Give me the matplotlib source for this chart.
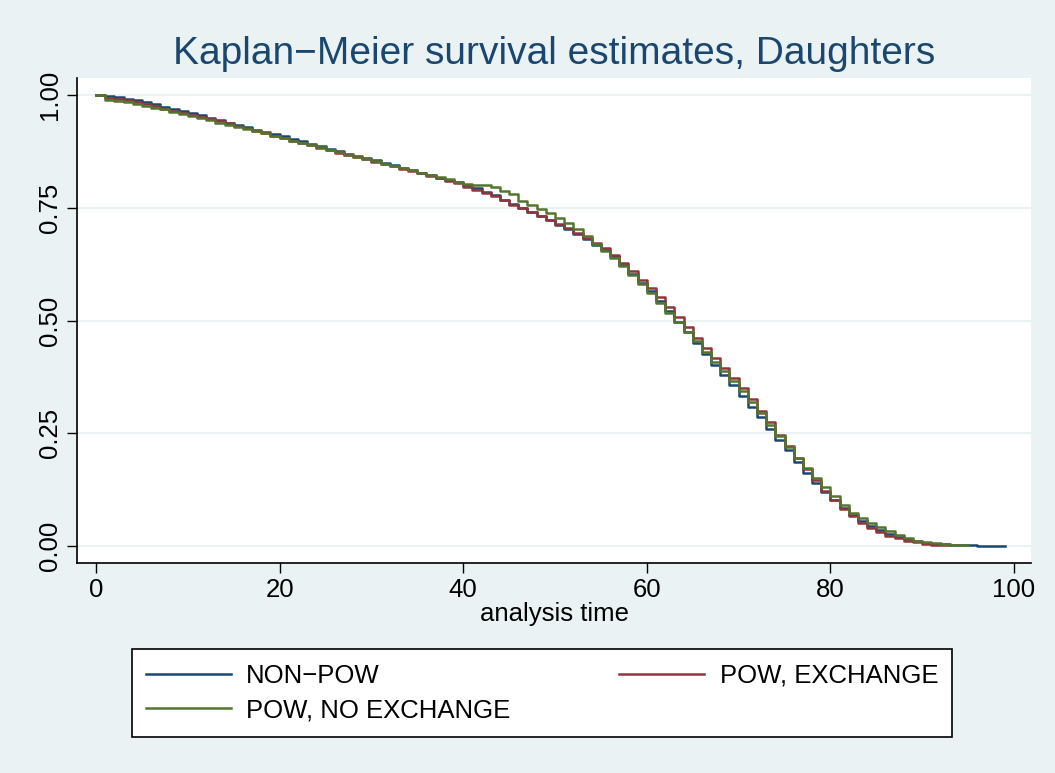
import numpy as np
import matplotlib
matplotlib.use('Agg')
import matplotlib.pyplot as plt

# Kaplan-Meier estimates, one value per year of analysis time
surv_nonpow = [1.000, 0.997, 0.995, 0.992, 0.988, 0.984, 0.979, 0.974, 0.970, 0.965,
               0.960, 0.955, 0.949, 0.944, 0.938, 0.933, 0.928, 0.923, 0.918, 0.913,
               0.908, 0.903, 0.898, 0.892, 0.886, 0.880, 0.875, 0.870, 0.865, 0.860,
               0.855, 0.849, 0.844, 0.838, 0.833, 0.827, 0.822, 0.817, 0.811, 0.806,
               0.800, 0.793, 0.786, 0.778, 0.768, 0.759, 0.750, 0.741, 0.731, 0.722,
               0.712, 0.703, 0.691, 0.680, 0.668, 0.657, 0.642, 0.622, 0.602, 0.584,
               0.565, 0.543, 0.520, 0.497, 0.474, 0.450, 0.426, 0.402, 0.380, 0.357,
               0.333, 0.309, 0.285, 0.260, 0.236, 0.212, 0.186, 0.162, 0.140, 0.120,
               0.102, 0.085, 0.069, 0.056, 0.045, 0.035, 0.027, 0.020, 0.015, 0.010,
               0.007, 0.005, 0.004, 0.003, 0.002, 0.0015, 0.001, 0.0007, 0.0003, 0.0]

surv_exch = [1.000, 0.994, 0.991, 0.988, 0.984, 0.980, 0.975, 0.970, 0.965, 0.961,
             0.956, 0.951, 0.947, 0.942, 0.937, 0.931, 0.926, 0.921, 0.915, 0.910,
             0.904, 0.899, 0.894, 0.889, 0.883, 0.877, 0.872, 0.867, 0.862, 0.857,
             0.852, 0.847, 0.842, 0.836, 0.831, 0.826, 0.821, 0.815, 0.810, 0.804,
             0.797, 0.789, 0.782, 0.775, 0.767, 0.757, 0.749, 0.740, 0.731, 0.722,
             0.713, 0.705, 0.693, 0.682, 0.671, 0.660, 0.646, 0.627, 0.609, 0.590,
             0.571, 0.551, 0.529, 0.507, 0.485, 0.462, 0.439, 0.417, 0.395, 0.373,
             0.350, 0.326, 0.300, 0.274, 0.247, 0.221, 0.195, 0.170, 0.146, 0.123,
             0.103, 0.083, 0.066, 0.052, 0.040, 0.031, 0.023, 0.017, 0.012, 0.008,
             0.005, 0.003, 0.002, 0.002]

surv_noexch = [1.000, 0.990, 0.987, 0.984, 0.980, 0.976, 0.972, 0.968, 0.963, 0.958,
               0.954, 0.949, 0.944, 0.939, 0.934, 0.929, 0.925, 0.920, 0.915, 0.910,
               0.904, 0.899, 0.894, 0.889, 0.884, 0.878, 0.873, 0.868, 0.863, 0.858,
               0.853, 0.848, 0.843, 0.838, 0.833, 0.828, 0.823, 0.818, 0.813, 0.808,
               0.803, 0.800, 0.800, 0.797, 0.788, 0.780, 0.764, 0.756, 0.747, 0.738,
               0.727, 0.716, 0.703, 0.687, 0.670, 0.655, 0.638, 0.620, 0.601, 0.582,
               0.561, 0.539, 0.517, 0.496, 0.474, 0.454, 0.431, 0.409, 0.388, 0.366,
               0.343, 0.320, 0.295, 0.268, 0.243, 0.219, 0.196, 0.173, 0.151, 0.130,
               0.111, 0.092, 0.074, 0.061, 0.050, 0.042, 0.033, 0.024, 0.017, 0.012,
               0.008, 0.006, 0.004, 0.003, 0.002, 0.002]

labels = ['NON\u2212POW', 'POW, EXCHANGE', 'POW, NO EXCHANGE']
colors = ['#1a476f', '#90353b', '#55752f']
xticks = [0, 20, 40, 60, 80, 100]
yticks = [0.0, 0.25, 0.5, 0.75, 1.0]

plt.rcParams['font.family'] = ['Liberation Sans', 'DejaVu Sans']

bg = '#eaf2f3'
fig = plt.figure(figsize=(10.55, 7.73), dpi=100, facecolor=bg)
ax = fig.add_axes([77 / 1055, 1 - 563 / 773, (1031 - 77) / 1055, (563 - 78) / 773])
ax.set_facecolor('white')

lines = []
for surv, lab, col in zip([surv_nonpow, surv_exch, surv_noexch], labels, colors):
    t = np.arange(len(surv))
    ln, = ax.step(t, surv, where='post', color=col, linewidth=1.8, label=lab)
    lines.append(ln)

ax.set_xlim(-2.07, 101.85)
ax.set_ylim(-0.0377, 1.0377)
ax.set_xticks(xticks)
ax.set_yticks(yticks)
ax.set_yticklabels(['%.2f' % v for v in yticks], rotation=90, va='center')
ax.tick_params(axis='both', labelsize=18.5, length=7, width=1, color='black', pad=4)
ax.grid(axis='y', color=bg, linewidth=1.5)
ax.set_axisbelow(True)
for side in ['top', 'right']:
    ax.spines[side].set_visible(False)
for side in ['left', 'bottom']:
    ax.spines[side].set_linewidth(1.2)

ax.set_xlabel('analysis time', fontsize=18.5, labelpad=0)
ax.set_title('Kaplan\u2212Meier survival estimates, Daughters', fontsize=28,
             color='#1a476f', pad=10)

# row-major order like the original: fill column 1 with rows 1-2 of first column
order = [0, 2, 1]
leg = fig.legend([lines[i] for i in order], [labels[i] for i in order],
                 loc='center', bbox_to_anchor=(542 / 1055, 1 - 693 / 773), ncol=2,
                 fontsize=18.5, handlelength=3.3, handletextpad=0.6, columnspacing=4.25,
                 labelspacing=0.42, borderpad=0.55, fancybox=False, framealpha=1)
leg.get_frame().set_edgecolor('black')
leg.get_frame().set_linewidth(1.2)

fig.savefig('out.png', dpi=100, facecolor=bg)
